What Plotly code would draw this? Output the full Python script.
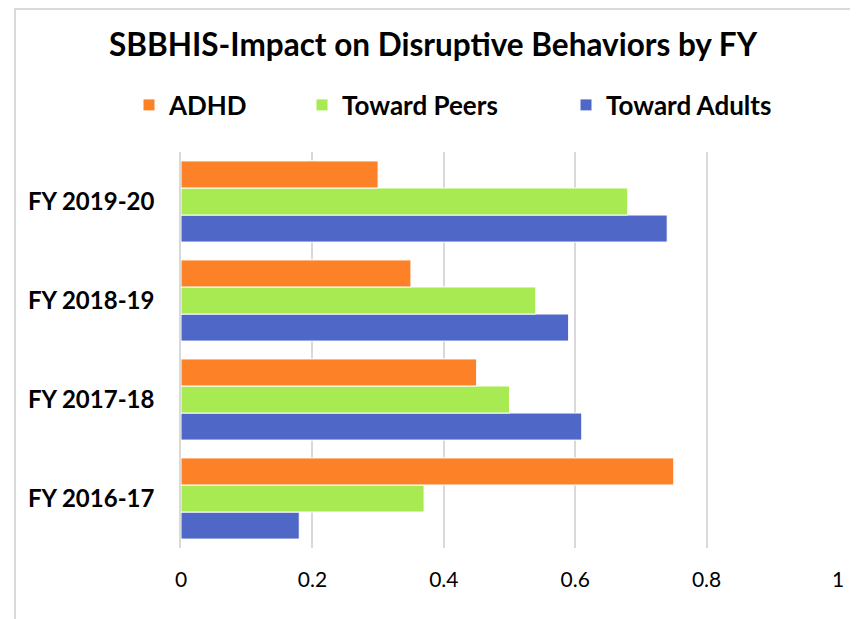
import plotly.graph_objects as go

FONT = "Lato"
COLOR_ADHD = "#FD8227"
COLOR_PEERS = "#A8EA52"
COLOR_ADULTS = "#4F68C8"
GRID = "#D9D9D9"

years = ["FY 2016-17", "FY 2017-18", "FY 2018-19", "FY 2019-20"]
adhd = [0.75, 0.45, 0.35, 0.30]
toward_peers = [0.37, 0.50, 0.54, 0.68]
toward_adults = [0.18, 0.61, 0.59, 0.74]
x_ticks = [0, 0.2, 0.4, 0.6, 0.8, 1]

# the page body has an 8px margin, so the figure is drawn 8px smaller and
# all positions below are given in figure pixels (screen pixels - 8)
OFF = 8
W, H = 858 - OFF, 619 - OFF
PLOT_L, PLOT_R, PLOT_T, PLOT_B = 181 - OFF, 838 - OFF, 152 - OFF, 548 - OFF

fig = go.Figure()

# plotly stacks horizontal groups bottom-up, so adults first
# each series gets its own legend so the entries sit where Excel put them
for name, values, color, legend in [
    ("Toward Adults", toward_adults, COLOR_ADULTS, "legend3"),
    ("Toward Peers", toward_peers, COLOR_PEERS, "legend2"),
    ("ADHD", adhd, COLOR_ADHD, "legend"),
]:
    fig.add_trace(
        go.Bar(
            y=years,
            x=values,
            name=f"<b>{name}</b>",
            orientation="h",
            legend=legend,
            marker=dict(color=color, line=dict(color="white", width=1)),
        )
    )

legend_style = dict(
    orientation="h",
    xref="container",
    yref="container",
    xanchor="left",
    y=1 - (105 - OFF) / H,
    yanchor="middle",
    font=dict(size=26, family=FONT, color="black"),
    bgcolor="rgba(0,0,0,0)",
)

fig.update_layout(
    width=W,
    height=H,
    margin=dict(l=PLOT_L, r=W - PLOT_R, t=PLOT_T, b=H - PLOT_B),
    paper_bgcolor="white",
    plot_bgcolor="white",
    font=dict(family=FONT, color="black"),
    barmode="group",
    bargap=0.18,
    bargroupgap=0,
    title=dict(
        text="<b>SBBHIS-Impact on Disruptive Behaviors by FY</b>",
        x=(433 - OFF) / W,
        xanchor="center",
        y=1 - (45 - OFF) / H,
        yanchor="middle",
        font=dict(size=31.5, family=FONT, color="black"),
    ),
    legend=dict(legend_style, x=(150 - 21 - OFF) / W),
    legend2=dict(legend_style, x=(323 - 21 - OFF) / W),
    legend3=dict(legend_style, x=(593 - 27 - OFF) / W),
    showlegend=True,
)

fig.update_xaxes(
    range=[0, 1],
    tickvals=x_ticks,
    ticktext=[f"{v:g}" for v in x_ticks],
    showgrid=True,
    gridcolor=GRID,
    gridwidth=1.5,
    zeroline=False,
    showline=False,
    ticks="outside",
    ticklen=13,
    tickcolor="rgba(0,0,0,0)",
    tickfont=dict(size=21, family=FONT, color="black"),
    automargin=False,
)
fig.update_yaxes(
    showgrid=False,
    showline=True,
    linecolor=GRID,
    linewidth=1.5,
    ticks="outside",
    ticklen=20,
    tickcolor="rgba(0,0,0,0)",
    tickfont=dict(size=24, family=FONT, color="black"),
    tickprefix="<b>",
    ticksuffix="</b>",
    automargin=False,
)

# chart border, cropped on the right and bottom
fig.add_shape(
    type="rect",
    xref="paper",
    yref="paper",
    x0=(15 - OFF - PLOT_L) / (PLOT_R - PLOT_L),
    x1=1.2,
    y0=-0.5,
    y1=(PLOT_B - 1) / (PLOT_B - PLOT_T),
    line=dict(color=GRID, width=2),
    layer="below",
)

fig.write_html("out.html")
